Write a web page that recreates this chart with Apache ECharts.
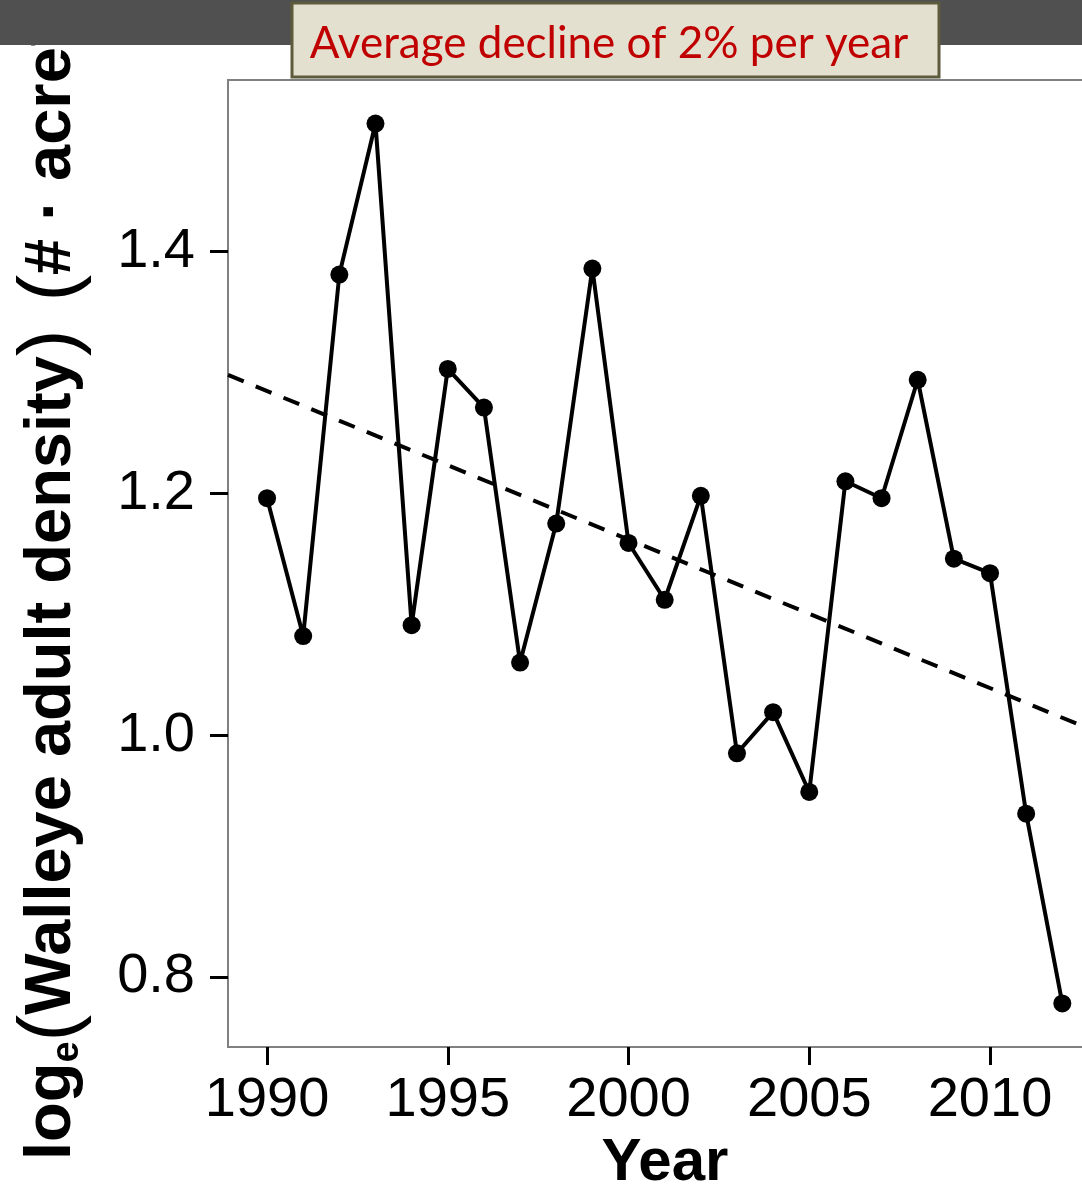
<!DOCTYPE html>
<html><head><meta charset="utf-8">
<script src="https://cdn.jsdelivr.net/npm/echarts@6/dist/echarts.min.js"></script>
<style>html,body{margin:0;padding:0;background:#fff}#c{width:1082px;height:1185px}</style>
</head><body><div id="c"></div>
<script>
const years = [1990,1991,1992,1993,1994,1995,1996,1997,1998,1999,2000,2001,2002,2003,2004,2005,2006,2007,2008,2009,2010,2011,2012];
const density = [1.196,1.082,1.381,1.506,1.091,1.303,1.271,1.060,1.175,1.386,1.159,1.112,1.198,0.985,1.019,0.953,1.210,1.196,1.294,1.146,1.134,0.935,0.778];
const trendYears = [1988.92, 2012.6];
const trendValues = [1.298, 1.007];
const xTicks = [1990,1995,2000,2005,2010];
const yTicks = [0.8,1.0,1.2,1.4];
const xRange = [1988.92, 2012.6];
const yRange = [0.742, 1.542];
const xTitle = 'Year';
const bannerText = 'Average decline of 2% per year';

const chart = echarts.init(document.getElementById('c'), null, {renderer:'canvas'});
const FONT = '"Liberation Sans", Arial, sans-serif';
chart.setOption({
  animation:false,
  backgroundColor:'#ffffff',
  grid:{left:228, top:80, right:-2, bottom:138, show:true, borderColor:'#808080', borderWidth:2,
        backgroundColor:'transparent', outerBoundsMode:'none', containLabel:false},
  xAxis:{type:'value', min:xRange[0], max:xRange[1],
    name:xTitle, nameLocation:'middle', nameGap:75,
    nameTextStyle:{fontFamily:FONT, fontWeight:'bold', fontSize:60, color:'#000', padding:[0,0,0,18]},
    axisLine:{show:false}, splitLine:{show:false},
    axisTick:{show:true, length:18, customValues:xTicks, lineStyle:{color:'#000', width:3}},
    axisLabel:{customValues:xTicks, margin:26, fontFamily:FONT, fontSize:56, color:'#000', formatter:v=>String(v)}
  },
  yAxis:{type:'value', min:yRange[0], max:yRange[1],
    axisLine:{show:false}, splitLine:{show:false},
    axisTick:{show:true, length:18, customValues:yTicks, lineStyle:{color:'#000', width:3}},
    axisLabel:{customValues:yTicks, margin:33, fontFamily:FONT, fontSize:56, color:'#000', formatter:v=>v.toFixed(1)}
  },
  series:[
    {type:'line', data:trendYears.map((y,i)=>[y,trendValues[i]]), symbol:'none',
     lineStyle:{color:'#000', width:4, type:[17,13]}, z:2},
    {type:'line', data:years.map((y,i)=>[y,density[i]]), symbol:'circle', symbolSize:18,
     itemStyle:{color:'#000'}, lineStyle:{color:'#000', width:4}, z:3}
  ],
  graphic:[
    {type:'text', x:52, y:1160, rotation:Math.PI/2, z:50,
     style:{text:'{b|log}{s|e}{p|(}{b|Walleye adult density}{p|)}{g| }{p|(}{b|# · acre}{s2|−1}{p|)}',
       align:'left', verticalAlign:'middle',
       rich:{
         b:{fontFamily:FONT, fontWeight:'bold', fontSize:65, lineHeight:70, fill:'#000'},
         g:{fontFamily:FONT, fontWeight:'bold', fontSize:65, lineHeight:70, width:28},
         s:{fontFamily:FONT, fontWeight:'bold', fontSize:38, lineHeight:40, verticalAlign:'bottom', fill:'#000'},
         s2:{fontFamily:FONT, fontWeight:'bold', fontSize:38, lineHeight:40, verticalAlign:'top', fill:'#000'},
         p:{fontFamily:FONT, fontWeight:'normal', fontSize:80, lineHeight:70, fill:'#000'}
       }}},
    {type:'rect', z:100, shape:{x:0,y:0,width:1082,height:45}, style:{fill:'#505050'}},
    {type:'rect', z:101, shape:{x:292,y:3,width:647,height:74}, style:{fill:'#E3E0CF', stroke:'#5E5A3C', lineWidth:3}},
    {type:'text', z:102, x:609, y:44, style:{text:bannerText, align:'center', verticalAlign:'middle',
      fontFamily:'Lato, "Open Sans", sans-serif', fontSize:44, fill:'#C00000'}}
  ]
});
</script></body></html>
